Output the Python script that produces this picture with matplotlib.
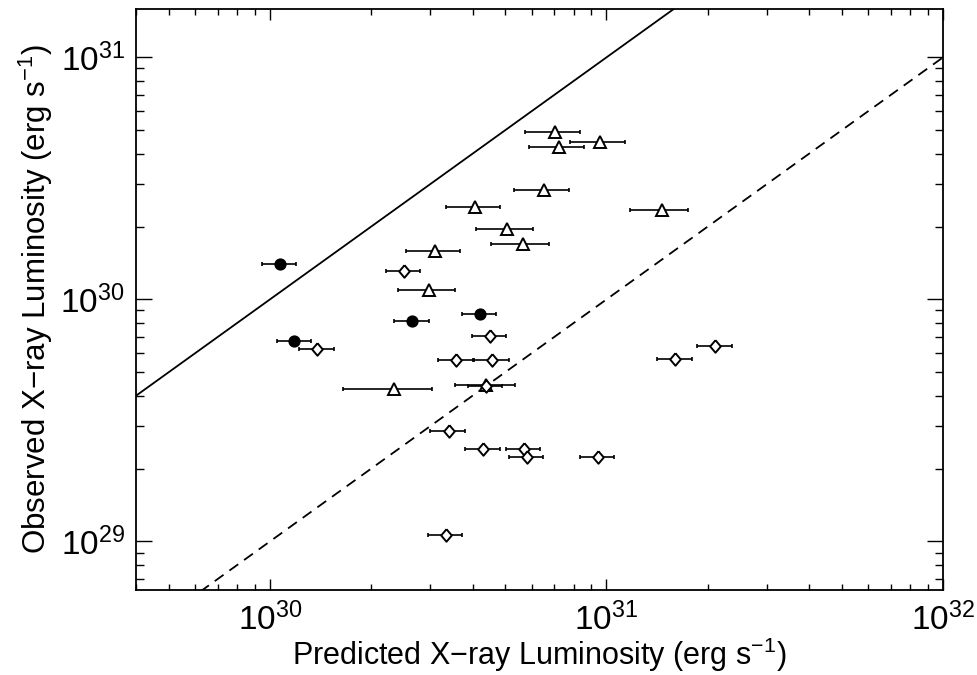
import numpy as np
import matplotlib
matplotlib.use("Agg")
import matplotlib.pyplot as plt
from matplotlib.ticker import LogLocator, NullFormatter

plt.rcParams['font.family'] = ['Liberation Sans', 'DejaVu Sans']
plt.rcParams['mathtext.fontset'] = 'custom'
plt.rcParams['mathtext.rm'] = 'Liberation Sans'
plt.rcParams['mathtext.it'] = 'Liberation Sans:italic'
plt.rcParams['mathtext.bf'] = 'Liberation Sans:bold'

# values in units of 1e30 erg/s
# filled circles
circ_x = [1.07, 1.18, 2.64, 4.21]
circ_y = [1.395, 0.675, 0.816, 0.873]
circ_lo = [0.949, 1.047, 2.34, 3.73]
circ_hi = [1.195, 1.321, 2.96, 4.69]

# open triangles
tri_x = [7.05, 9.57, 7.21, 6.52, 4.075, 14.62, 5.07, 5.66, 3.10, 2.975, 2.34, 4.40]
tri_y = [4.90, 4.456, 4.26, 2.82, 2.40, 2.346, 1.952, 1.697, 1.583, 1.092, 0.425, 0.443]
tri_lo = [5.74, 7.79, 5.87, 5.31, 3.33, 11.77, 4.10, 4.55, 2.54, 2.41, 1.652, 3.55]
tri_hi = [8.34, 11.37, 8.57, 7.72, 4.83, 17.47, 6.04, 6.75, 3.67, 3.54, 3.03, 5.36]

# open diamonds
dia_x = [2.51, 4.51, 1.38, 21.05, 3.57, 4.58, 16.03, 4.40, 3.40, 4.305, 5.69, 5.80, 9.43, 3.33]
dia_y = [1.313, 0.707, 0.622, 0.644, 0.560, 0.563, 0.566, 0.438, 0.2864, 0.2407, 0.2407, 0.223, 0.223, 0.1065]
dia_lo = [2.22, 3.98, 1.222, 18.58, 3.16, 4.05, 14.16, 3.88, 2.995, 3.80, 5.02, 5.12, 8.33, 2.94]
dia_hi = [2.80, 5.03, 1.55, 23.55, 4.00, 5.13, 17.95, 4.91, 3.80, 4.82, 6.36, 6.49, 10.55, 3.73]

scale = 1e30
xlim = (4e29, 1e32)
ylim = (6.3e28, 1.585e31)


def draw_set(ax, x, y, lo, hi, marker, face, ms):
    x = np.array(x) * scale
    y = np.array(y) * scale
    lo = np.array(lo) * scale
    hi = np.array(hi) * scale
    ax.errorbar(x, y, xerr=[x - lo, hi - x], fmt='none', ecolor='black',
                elinewidth=1.2, capsize=1.5, capthick=1.2, zorder=2)
    ax.plot(x, y, linestyle='none', marker=marker, markersize=ms,
            markerfacecolor=face, markeredgecolor='black',
            markeredgewidth=1.4, zorder=3)


fig = plt.figure(figsize=(9.77, 6.75), dpi=100)
ax = fig.add_axes([0.1392, 0.1259, 0.8260, 0.8608])
ax.set_xscale('log')
ax.set_yscale('log')

# reference lines: y = x and y = x/10
xx = np.array([1e28, 1e33])
ax.plot(xx, xx, color='black', linewidth=1.3, zorder=1)
ax.plot(xx, xx / 10, color='black', linewidth=1.3, dashes=(6, 4), zorder=1)

diamond = [(0, 1), (0.85, 0), (0, -1), (-0.85, 0), (0, 1)]
draw_set(ax, tri_x, tri_y, tri_lo, tri_hi, '^', 'white', 8.5)
draw_set(ax, dia_x, dia_y, dia_lo, dia_hi, diamond, 'white', 9)
draw_set(ax, circ_x, circ_y, circ_lo, circ_hi, 'o', 'black', 7.4)

ax.set_xlim(xlim)
ax.set_ylim(ylim)

ax.xaxis.set_major_locator(LogLocator(base=10))
ax.yaxis.set_major_locator(LogLocator(base=10))
ax.xaxis.set_minor_locator(LogLocator(base=10, subs=np.arange(2, 10)))
ax.yaxis.set_minor_locator(LogLocator(base=10, subs=np.arange(2, 10)))
ax.xaxis.set_minor_formatter(NullFormatter())
ax.yaxis.set_minor_formatter(NullFormatter())

ax.tick_params(which='both', direction='in', top=True, right=True,
               width=1.0, colors='black', labelsize=24)
ax.tick_params(axis='x', which='major', length=8, pad=9)
ax.tick_params(axis='x', which='minor', length=4)
ax.tick_params(axis='y', which='major', length=11.5, pad=8)
ax.tick_params(axis='y', which='minor', length=5.8)

for s in ax.spines.values():
    s.set_linewidth(1.3)

ax.set_xlabel('Predicted X\u2212ray Luminosity (erg s$^{-1}$)', fontsize=22, labelpad=-1)
ax.set_ylabel('Observed X\u2212ray Luminosity (erg s$^{-1}$)', fontsize=22.5, labelpad=4)

fig.savefig('out.png', dpi=100)
